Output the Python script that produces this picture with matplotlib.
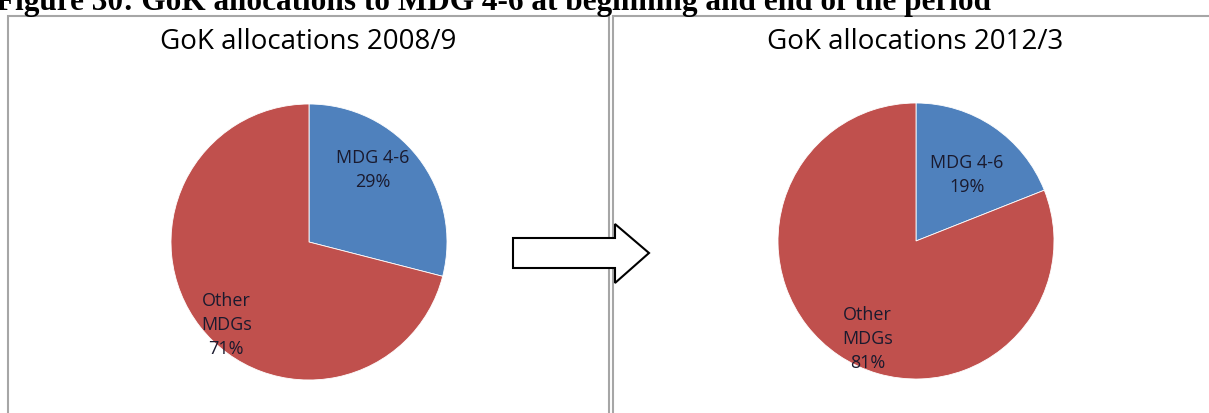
import numpy as np
from matplotlib import pyplot as plt
import matplotlib.patches as mpatches

# データ
labels = ["MDG 4-6", "Other\nMDGs"]
share_2008 = [29, 71]
share_2012 = [19, 81]
titles = ["GoK allocations 2008/9", "GoK allocations 2012/3"]
fig_title = "Figure 30: GoK allocations to MDG 4-6 at beginning and end of the period"

colors = ["#4F81BD", "#C0504D"]
W, H = 1209, 413

fig = plt.figure(figsize=(W / 100, H / 100), dpi=100)
fig.patch.set_facecolor("white")


def px(x0, y0, x1, y1):
    # ピクセル座標(上基準) -> figure座標
    return [x0 / W, 1 - y1 / H, (x1 - x0) / W, (y1 - y0) / H]


# パネル枠
for x0, x1 in [(8, 609), (613, 1215)]:
    fig.patches.append(mpatches.Rectangle((x0 / W, -0.05), (x1 - x0) / W, 1.05 - 16 / H,
                                          transform=fig.transFigure, fill=False,
                                          edgecolor="#A6A6A6", linewidth=1.5))

# 上の見出し（上が切れている）
fig.text(-4 / W, 1 - 10 / H, fig_title, family="Liberation Serif", weight="bold",
         fontsize=22.5, va="baseline", ha="left", color="black")


def draw_pie(rect, values, title, tx, pos):
    ax = fig.add_axes(rect)
    ax.pie(values, colors=colors, startangle=90, counterclock=False, radius=1,
           wedgeprops=dict(linewidth=0.6, edgecolor="white"))
    ax.set_xlim(-1, 1)
    ax.set_ylim(-1, 1)
    ax.set_aspect("equal")
    ax.axis("off")
    for lab, v, (lx, ly) in zip(labels, values, pos):
        ax.text(lx, ly, f"{lab}\n{v}%", ha="center", va="center", fontsize=13,
                family="Open Sans", color="#1a1a2e", linespacing=1.45)
    fig.text(tx / W, 1 - 42 / H, title, ha="center", va="center", fontsize=20,
             family="Open Sans", color="black")


r = 138
draw_pie(px(309 - r, 242 - r, 309 + r, 242 + r), share_2008, titles[0], 308,
         [(0.46, 0.52), (-0.6, -0.6)])
draw_pie(px(916 - r, 241 - r, 916 + r, 241 + r), share_2012, titles[1], 915,
         [(0.37, 0.48), (-0.35, -0.71)])

# 矢印
arrow_xy = [(513, 238), (615, 238), (615, 224), (649, 253), (615, 283), (615, 268), (513, 268)]
arrow = mpatches.Polygon([(x / W, 1 - y / H) for x, y in arrow_xy], closed=True,
                         transform=fig.transFigure, facecolor="white", edgecolor="black",
                         linewidth=1.5, zorder=10)
fig.patches.append(arrow)

plt.savefig("out.png", dpi=100)
plt.close()
